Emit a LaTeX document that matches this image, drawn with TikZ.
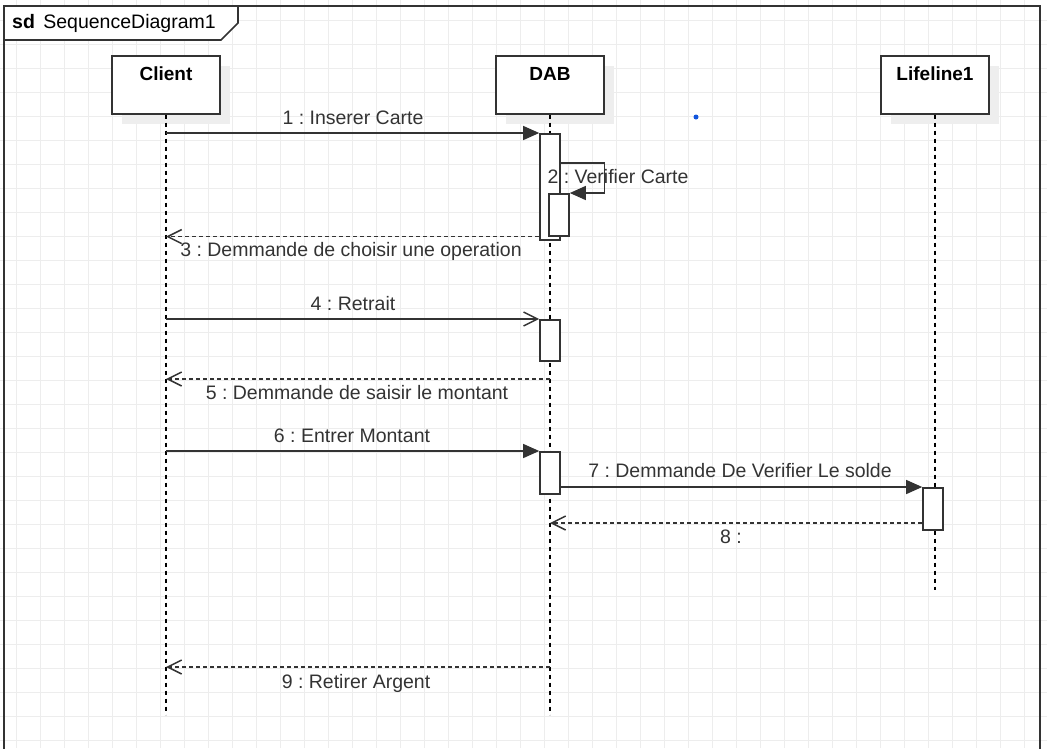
\documentclass[tikz,border=0pt]{standalone}
\usepackage{fontspec}
\setmainfont{Liberation Sans}
\usetikzlibrary{positioning,arrows.meta,shadows}
\definecolor{umlline}{HTML}{333333}
\definecolor{umlgrid}{HTML}{EDEDED}
\definecolor{umlshadow}{HTML}{EEEEEE}
\definecolor{umldot}{HTML}{1155DD}
\frenchspacing

\begin{document}
\begin{tikzpicture}[x=1pt,y=-1pt,
  head/.style={draw=umlline,line width=1.6pt,fill=white,minimum width=108pt,
    inner xsep=0pt,inner ysep=5.5pt,text height=19.5pt,text depth=27.5pt,
    font=\fontsize{19}{19}\selectfont\bfseries,anchor=north,
    drop shadow={shadow xshift=10pt,shadow yshift=-10pt,fill=umlshadow,opacity=1}},
  act/.style={draw=umlline,line width=1.6pt,fill=white,minimum width=20pt,
    inner sep=0pt,anchor=north},
  life/.style={black,line width=1.3pt,dash pattern=on 4pt off 4pt},
  call/.style={umlline,line width=1.3pt,-{Triangle[length=16pt,width=14pt]}},
  async/.style={umlline,line width=1.3pt,-{Straight Barb[length=14pt,width=14pt,line width=1.5pt]}},
  reply/.style={umlline,line width=1.3pt,dash pattern=on 4pt off 3pt,
    -{Straight Barb[length=14pt,width=14pt,line width=1.5pt]}},
  msgtxt/.style={font=\fontsize{19.5}{19.5}\selectfont,text=umlline,anchor=base,inner sep=0pt}]
  \useasboundingbox (0,0) rectangle (1047,748);
  % background grid
  \foreach \k in {0,...,42} \draw[umlgrid,line width=1pt] (16.7+24*\k,0) -- ++(0,748);
  \foreach \k in {0,...,30} \draw[umlgrid,line width=1pt] (0,20.3+24*\k) -- ++(1047,0);

  % frame
  \draw[umlline,line width=2pt] (4,760) -- (4,6) -- (1040,6) -- (1040,760);
  \draw[umlline,line width=1.6pt,fill=white] (4,6) -- (238,6) -- (238,23) -- (221,40) -- (4,40) -- cycle;
  \node[anchor=base west,inner sep=0pt,font=\fontsize{19.5}{19.5}\selectfont] (sdtitle) at (12,28.5)
    {\textbf{sd}\hspace{3pt} SequenceDiagram1};

  % lifelines
  \node[head] (client) at (166,55) {Client};
  \node[head] (dab) at (550,55) {DAB};
  \node[head] (life1) at (935,55) {Lifeline1};
  \draw[life] (client.south) -- ++(0,600);
  \draw[life] (dab.south) -- ++(0,600);
  \draw[life] (life1.south) -- ++(0,475);

  % activations
  \node[act,minimum height=106pt] (actA) at (550,133) {};
  \node[act,minimum height=42pt] (actB) at (559,193) {};
  \node[act,minimum height=41pt] (actC) at (550,319) {};
  \node[act,minimum height=42pt] (actD) at (550,451) {};
  \node[act,minimum height=42pt] (actE) at (933,487) {};

  \coordinate (r5) at (550,379);
  \coordinate (r8) at (550,523);
  \coordinate (r9) at (550,667);

  % messages
  \draw[call] (client |- actA.north) -- (actA.north west);
  \node[msgtxt] (m1) at (353,124) {1 : Inserer Carte};
  \draw[call] ([yshift=-30pt]actA.north east) -- ++(44,0) |- (actB.north east);
  \node[msgtxt] (m2) at (618,183) {2 : Verifier Carte};
  \draw[reply] (actA.west |- actB.south) -- (client |- actB.south);
  \node[msgtxt] (m3) at (351,256) {3 : Demmande de choisir une operation};
  \draw[async] (client |- actC.north) -- (actC.north west);
  \node[msgtxt] (m4) at (353,310) {4 : Retrait};
  \draw[reply] (r5) -- (client |- r5);
  \node[msgtxt] (m5) at (357,399) {5 : Demmande de saisir le montant};
  \draw[call] (client |- actD.north) -- (actD.north west);
  \node[msgtxt] (m6) at (352,442) {6 : Entrer Montant};
  \draw[call] (actD.east |- actE.north) -- (actE.north west);
  \node[msgtxt] (m7) at (740,477) {7 : Demmande De Verifier Le solde};
  \draw[reply] (actE.west |- r8) -- (r8);
  \node[msgtxt] (m8) at (731,543) {8 :};
  \draw[reply] (r9) -- (client |- r9);
  \node[msgtxt] (m9) at (356,688) {9 : Retirer Argent};

  \fill[umldot] (696,117) circle (2.5);
\end{tikzpicture}
\end{document}
